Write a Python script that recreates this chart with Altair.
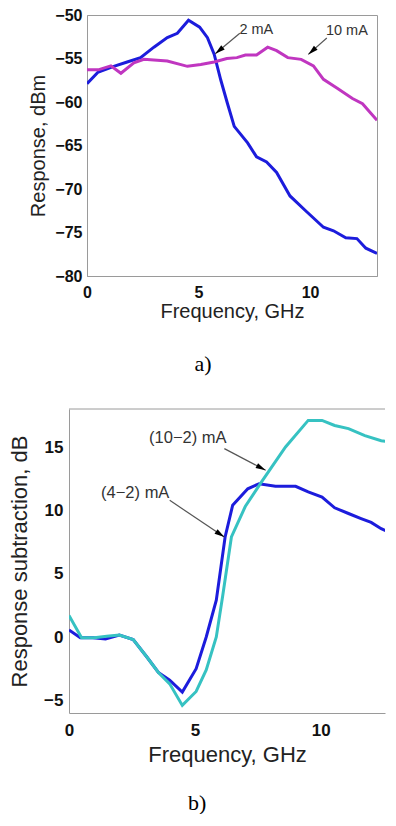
import math
import altair as alt
import pandas as pd

# ---------------- data ----------------
# panel a) : response, dBm vs frequency, GHz
freq_2mA = [0, 0.48, 1.2, 1.8, 2.4, 3.0, 3.6, 4.05, 4.55, 5.05, 5.4, 5.7, 6.0, 6.3, 6.6,
            7.2, 7.6, 8.05, 8.5, 9.1, 9.8, 10.6, 11.05, 11.6, 12.1, 12.5, 13.0]
resp_2mA = [-57.9, -56.6, -55.9, -55.4, -54.9, -53.7, -52.6, -52.1, -50.6, -51.4, -52.6, -54.5,
            -57.5, -60.2, -62.8, -64.7, -66.3, -66.9, -68.1, -70.8, -72.5, -74.4, -74.8, -75.6,
            -75.7, -76.8, -77.4]
freq_10mA = [0, 0.5, 1.07, 1.52, 2.1, 2.55, 3.6, 4.5, 5.1, 5.7, 6.27, 6.72, 7.1, 7.6, 8.1,
             8.5, 9.0, 9.6, 10.15, 10.6, 11.2, 11.9, 12.35, 13.0]
resp_10mA = [-56.3, -56.3, -55.85, -56.7, -55.5, -55.1, -55.3, -55.9, -55.7, -55.4, -55.0,
             -54.9, -54.6, -54.6, -53.7, -54.1, -54.9, -55.1, -55.85, -57.4, -58.4, -59.6,
             -60.2, -62.1]

# panel b) : response subtraction, dB vs frequency, GHz
freq_4_2 = [0, 0.45, 0.95, 1.45, 2.0, 2.55, 3.1, 3.55, 4.0, 4.5, 5.05, 5.45, 5.85, 6.2, 6.5,
            7.1, 7.55, 8.2, 9.0, 9.5, 10.05, 10.55, 11.1, 11.6, 12.0, 12.4, 13.0]
diff_4_2 = [0.55, -0.05, -0.05, -0.15, 0.15, -0.2, -1.6, -2.8, -3.4, -4.35, -2.5, 0.0, 2.9,
            7.9, 10.4, 11.7, 12.1, 11.9, 11.9, 11.45, 11.05, 10.2, 9.75, 9.35, 9.05, 8.55, 8.0]
freq_10_2 = [0, 0.5, 1.0, 1.5, 2.0, 2.55, 3.1, 3.55, 4.0, 4.5, 5.05, 5.45, 5.85, 6.1, 6.45,
             7.0, 7.7, 8.6, 9.5, 10.05, 10.55, 11.1, 11.75, 12.4, 13.0]
diff_10_2 = [1.7, -0.05, -0.05, 0.05, 0.15, -0.2, -1.6, -2.8, -3.7, -5.4, -4.3, -2.6, 0.0,
             3.2, 7.9, 10.3, 12.4, 15.0, 17.1, 17.1, 16.7, 16.45, 15.9, 15.5, 15.3]

x_ticks = [0, 5, 10]
y_ticks_a = [-80, -75, -70, -65, -60, -55, -50]
y_ticks_b = [-5, 0, 5, 10, 15]

# annotations (data coordinates)
labels_a = ["2 mA", "10 mA"]
label_x_a = [7.59, 11.65]
label_y_a = [-51.7, -51.8]
arrow_from_x_a = [6.85, 10.75]
arrow_from_y_a = [-52.1, -52.64]
arrow_to_x_a = [5.75, 9.92]
arrow_to_y_a = [-54.45, -54.53]

labels_b = ["(10\u22122) mA", "(4\u22122) mA"]
label_x_b = [4.72, 2.63]
label_y_b = [15.68, 11.34]
arrow_from_x_b = [6.17, 4.0]
arrow_from_y_b = [14.87, 10.79]
arrow_to_x_b = [7.81, 6.17]
arrow_to_y_b = [13.16, 7.89]

# ---------------- styling ----------------
SANS = "Liberation Sans"
SERIF = "Liberation Serif"
AXIS_GRAY = "#9a9a9a"
BLUE = "#1c1cdc"
MAGENTA = "#c036c0"
CYAN = "#36c2c2"
HEAD = "M0,-1L-0.55,1L0.55,1Z"


def panel(series, colors, ann, xdom, ydom, yticks, w, h, ytitle,
          lab_fs, tit_fs, ann_fs, lpad_y, tpad_y, lpad_x, tpad_x,
          tag, tag_offset, boxed):
    kx = w / (xdom[1] - xdom[0])
    ky = h / (ydom[1] - ydom[0])
    xs = alt.Scale(domain=xdom, nice=False, zero=False)
    ys = alt.Scale(domain=ydom, nice=False, zero=False)
    common = dict(grid=False, ticks=False, tickSize=0, labelFont=SANS,
                  labelFontSize=lab_fs, labelFontWeight="bold", labelColor="#111111",
                  titleFont=SANS, titleFontSize=tit_fs, titleFontWeight="normal",
                  titleColor="#222222", domainColor=AXIS_GRAY, domainWidth=1,
                  labelFlush=False)
    xaxis = alt.Axis(values=x_ticks, title="Frequency, GHz", labelPadding=lpad_x,
                     titlePadding=tpad_x, **common)
    yaxis = alt.Axis(values=yticks, title=ytitle, labelPadding=lpad_y,
                     titlePadding=tpad_y, **common)

    rows = []
    for name, fx, fy in series:
        for a, b in zip(fx, fy):
            rows.append({"s": name, "x": a, "y": b})
    df = pd.DataFrame(rows)
    names = [s[0] for s in series]

    lines = alt.Chart(df).mark_line(strokeWidth=3, clip=True).encode(
        x=alt.X("x:Q", scale=xs, axis=xaxis),
        y=alt.Y("y:Q", scale=ys, axis=yaxis),
        color=alt.Color("s:N", scale=alt.Scale(domain=names, range=colors), legend=None),
    )

    labels, tx, ty, x0, y0, x1, y1 = ann
    adf = pd.DataFrame({"label": labels, "x": tx, "y": ty,
                        "x0": x0, "y0": y0, "x1": x1, "y1": y1})
    hx, hy, ang = [], [], []
    for a0, b0, a1, b1 in zip(x0, y0, x1, y1):
        dxp = (a1 - a0) * kx
        dyp = -(b1 - b0) * ky
        L = math.hypot(dxp, dyp)
        ux, uy = dxp / L, dyp / L
        back = 5.0
        hx.append(a1 - ux * back / kx)
        hy.append(b1 + uy * back / ky)
        ang.append(math.degrees(math.atan2(ux, -uy)) % 360)
    adf["hx"] = hx
    adf["hy"] = hy
    adf["ang"] = ang

    rules = alt.Chart(adf).mark_rule(color="#555555", strokeWidth=1.2).encode(
        x=alt.X("x0:Q", scale=xs, axis=xaxis),
        y=alt.Y("y0:Q", scale=ys, axis=yaxis),
        x2="x1:Q", y2="y1:Q",
    )
    heads = alt.Chart(adf).mark_point(shape=HEAD, filled=True, color="black",
                                      size=100, opacity=1, strokeWidth=0).encode(
        x=alt.X("hx:Q", scale=xs, axis=xaxis),
        y=alt.Y("hy:Q", scale=ys, axis=yaxis),
        angle=alt.Angle("ang:Q", scale=None),
    )
    texts = alt.Chart(adf).mark_text(font=SANS, fontSize=ann_fs, color="#333333",
                                     align="center", baseline="middle").encode(
        x=alt.X("x:Q", scale=xs, axis=xaxis),
        y=alt.Y("y:Q", scale=ys, axis=yaxis),
        text="label:N",
    )
    layers = [lines, rules, heads, texts]
    if boxed:
        view = alt.ViewBackground(stroke=AXIS_GRAY, strokeWidth=1, fill="white")
    else:
        view = alt.ViewBackground(strokeOpacity=0, fill="white")
        top = alt.Chart(pd.DataFrame({"y": [ydom[1]]})).mark_rule(
            color=AXIS_GRAY, strokeWidth=1).encode(y=alt.Y("y:Q", scale=ys, axis=yaxis))
        layers.append(top)

    return alt.layer(*layers).properties(
        width=w, height=h, view=view,
        title=alt.TitleParams(text=tag, orient="bottom", font=SERIF, fontSize=22,
                              fontWeight="normal", anchor="middle", frame="bounds",
                              offset=tag_offset, color="#000000"),
    )


A_W, A_H = 290, 261
B_W, B_H = 316, 304

chart_a = panel(
    [("2 mA", freq_2mA, resp_2mA), ("10 mA", freq_10mA, resp_10mA)],
    [BLUE, MAGENTA],
    (labels_a, label_x_a, label_y_a, arrow_from_x_a, arrow_from_y_a, arrow_to_x_a, arrow_to_y_a),
    [0, 13], [-80, -50], y_ticks_a, A_W, A_H, "Response, dBm",
    16, 20, 14.5, 5, 6, 8, 1, "a)", 33, True,
)

chart_b = panel(
    [("(4-2) mA", freq_4_2, diff_4_2), ("(10-2) mA", freq_10_2, diff_10_2)],
    [BLUE, CYAN],
    (labels_b, label_x_b, label_y_b, arrow_from_x_b, arrow_from_y_b, arrow_to_x_b, arrow_to_y_b),
    [0, 12.55], [-6, 18], y_ticks_b, B_W, B_H, "Response subtraction, dB",
    17, 22, 16.5, 6, 12, 9, 6, "b)", 28, False,
)

# empty spacer so that panel a) sits further right than panel b)
spacer = alt.Chart(pd.DataFrame({"v": [0]})).mark_point(opacity=0).encode(
    x=alt.value(0), y=alt.value(0)
).properties(width=18, height=A_H, view=alt.ViewBackground(strokeOpacity=0))

row_a = alt.hconcat(spacer, chart_a, spacing=0, bounds="flush")

chart = alt.vconcat(row_a, chart_b, spacing=32).resolve_scale(
    color="independent"
).properties(
    padding={"left": 0, "top": -2, "right": 0, "bottom": 0}, background="white"
)

chart.save("out.html", embed_options={"renderer": "svg", "actions": False})
